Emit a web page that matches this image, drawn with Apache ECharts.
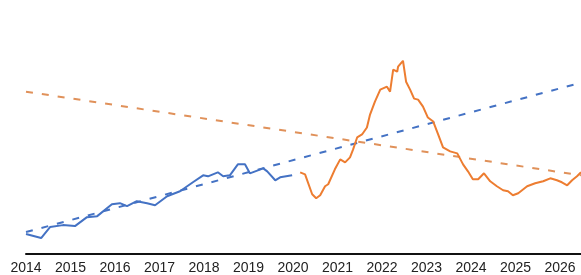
<!DOCTYPE html>
<html><head><meta charset="utf-8">
<script src="https://cdn.jsdelivr.net/npm/echarts@6/dist/echarts.min.js"></script>
<style>html,body{margin:0;padding:0;background:#fff}#c{width:581px;height:275px}</style>
</head><body><div id="c"></div>
<script>
const yearTicks = [2014,2015,2016,2017,2018,2019,2020,2021,2022,2023,2024,2025,2026];
const blueDates = [2014.00,2014.34,2014.54,2014.83,2015.10,2015.37,2015.60,2015.93,2016.11,2016.27,2016.49,2016.72,2016.90,2017.17,2017.46,2017.75,2017.98,2018.09,2018.31,2018.43,2018.58,2018.76,2018.92,2019.03,2019.33,2019.42,2019.60,2019.71,2019.98];
const blueValues = [20,16,27,29,28,37,38,50,51,48,53,51,49,58,63,72,79,78,82,78,79,90,90,81,86,83,74,77,79];
const orangeDates = [2020.16,2020.27,2020.43,2020.52,2020.61,2020.72,2020.79,2020.94,2021.06,2021.17,2021.28,2021.35,2021.44,2021.55,2021.66,2021.73,2021.84,2021.96,2022.11,2022.18,2022.25,2022.34,2022.36,2022.47,2022.54,2022.63,2022.72,2022.81,2022.92,2023.03,2023.15,2023.26,2023.37,2023.53,2023.69,2023.82,2023.93,2024.04,2024.16,2024.29,2024.43,2024.58,2024.72,2024.83,2024.94,2025.06,2025.26,2025.44,2025.62,2025.78,2025.93,2026.04,2026.16,2026.27,2026.38,2026.47];
const orangeValues = [82,80,60,56,59,68,70,85,95,92,97,105,117,120,127,140,153,165,168,163,185,183,188,194,173,165,156,155,148,137,133,120,107,103,101,90,83,75,75,81,73,68,64,63,59,61,68,71,73,76,74,72,69,74,78,82];
const blueTrendDates = [2014.0, 2026.47];
const blueTrendValues = [22, 172];
const orangeTrendDates = [2014.0, 2026.47];
const orangeTrendValues = [163, 79];

const zip = (a,b) => a.map((v,i)=>[v,b[i]]);
const chart = echarts.init(document.getElementById('c'), null, {renderer:'canvas'});
chart.setOption({
  animation:false,
  grid:{left:26,right:0,top:0,bottom:20,containLabel:false},
  xAxis:{type:'value',min:yearTicks[0],max:2026.47,interval:1,
    axisLine:{show:true,lineStyle:{color:'#111',width:2}},
    axisTick:{show:false},splitLine:{show:false},
    axisLabel:{show:true,margin:7,color:'#222',fontFamily:'Liberation Sans, Arial',fontSize:14,
      showMaxLabel:false,
      formatter:v=> yearTicks.includes(v)? String(v):''}},
  yAxis:{type:'value',min:0,max:255,show:false,splitLine:{show:false}},
  series:[
    {type:'line',data:zip(blueTrendDates,blueTrendValues),showSymbol:false,z:1,
      lineStyle:{color:'#4472C4',width:2,type:[7,9]}},
    {type:'line',data:zip(orangeTrendDates,orangeTrendValues),showSymbol:false,z:1,
      lineStyle:{color:'#E0915A',width:2,type:[7,9]}},
    {type:'line',data:zip(blueDates,blueValues),showSymbol:false,z:2,
      lineStyle:{color:'#4472C4',width:2}},
    {type:'line',data:zip(orangeDates,orangeValues),showSymbol:false,z:2,
      lineStyle:{color:'#ED7D31',width:2}}
  ]
});
</script></body></html>
